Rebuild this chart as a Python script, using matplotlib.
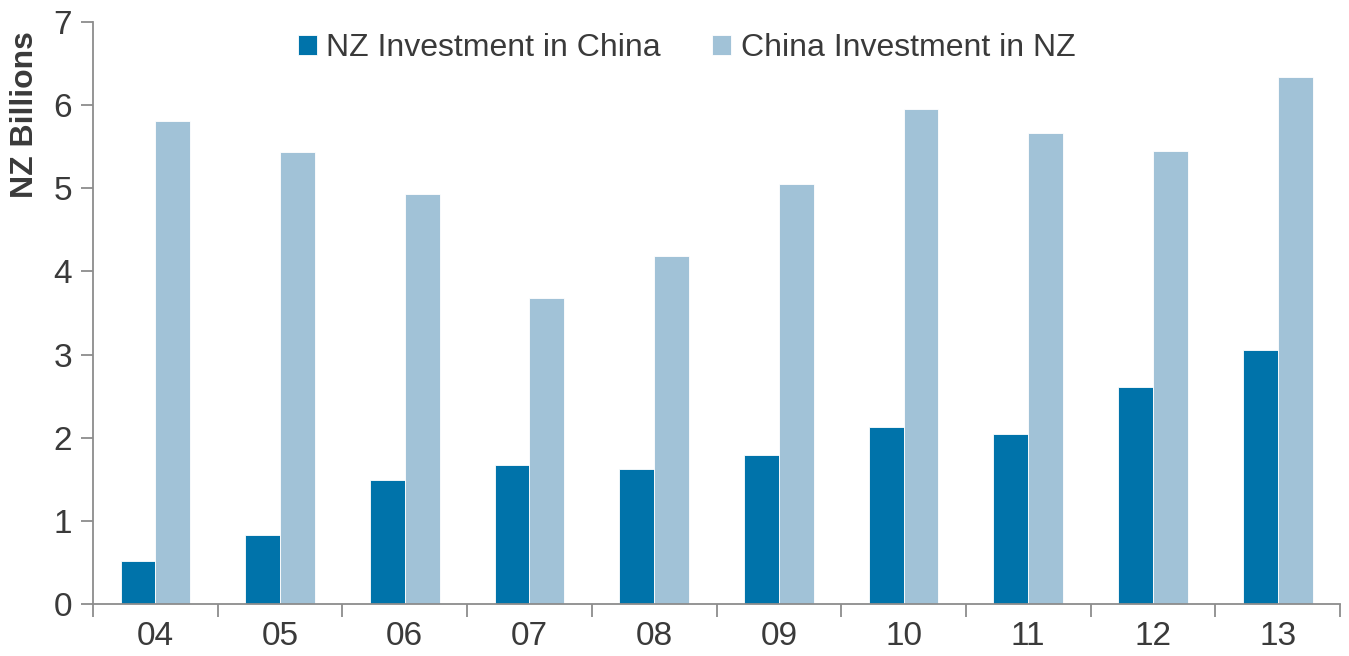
import matplotlib
matplotlib.use('Agg')
from matplotlib import pyplot as plt
import numpy

years = ['04', '05', '06', '07', '08', '09', '10', '11', '12', '13']
nz_in_china = [0.52, 0.83, 1.49, 1.67, 1.62, 1.79, 2.13, 2.04, 2.61, 3.06]
china_in_nz = [5.81, 5.44, 4.93, 3.68, 4.19, 5.05, 5.95, 5.67, 5.45, 6.34]

plt.rcParams['font.family'] = ['Liberation Sans', 'DejaVu Sans']

dark = '#0073aa'
light = '#a1c2d7'
axis_col = '#8c8c8c'
text_col = '#3a3a3a'

fig = plt.figure(figsize=(13.49, 6.56), dpi=100)
ax = fig.add_axes([0.069, 0.0793, 0.9243, 0.8872])

x = numpy.arange(len(years))
w = 0.28
ax.bar(x - w / 2, nz_in_china, w, color=dark, edgecolor='white', linewidth=0.6,
       label='NZ Investment in China')
ax.bar(x + w / 2, china_in_nz, w, color=light, edgecolor='white', linewidth=0.6,
       label='China Investment in NZ')

ax.set_xlim(-0.5, len(years) - 0.5)
ax.set_ylim(0, 7)
ax.set_yticks(range(0, 8))

# category labels centred, tick marks on the boundaries
ax.set_xticks(numpy.arange(-0.5, len(years), 1.0))
ax.set_xticklabels([])
ax.set_xticks(x, minor=True)
ax.set_xticklabels(years, minor=True)
ax.tick_params(axis='x', which='minor', length=0, pad=12, labelsize=24, labelcolor=text_col)
ax.tick_params(axis='x', which='major', length=9, direction='out', color=axis_col, width=1.3)
ax.tick_params(axis='y', length=9, direction='out', color=axis_col, width=1.3,
               labelsize=24, labelcolor=text_col, pad=6)

for s in ['top', 'right']:
  ax.spines[s].set_visible(False)
for s in ['left', 'bottom']:
  ax.spines[s].set_color(axis_col)
  ax.spines[s].set_linewidth(1.3)

# y label sits high up, next to the top ticks
fig.text(25 / 1349, 1 - 115 / 656, 'NZ Billions', rotation=90, ha='center', va='center',
         fontsize=23, fontweight='bold', color=text_col)

ax.legend(loc='center', bbox_to_anchor=(0.476, 0.955), ncol=2, frameon=False,
          fontsize=23, handlelength=0.6, handleheight=0.6, handletextpad=0.3,
          columnspacing=1.6, labelcolor=text_col)

fig.savefig('out.png', dpi=100)
